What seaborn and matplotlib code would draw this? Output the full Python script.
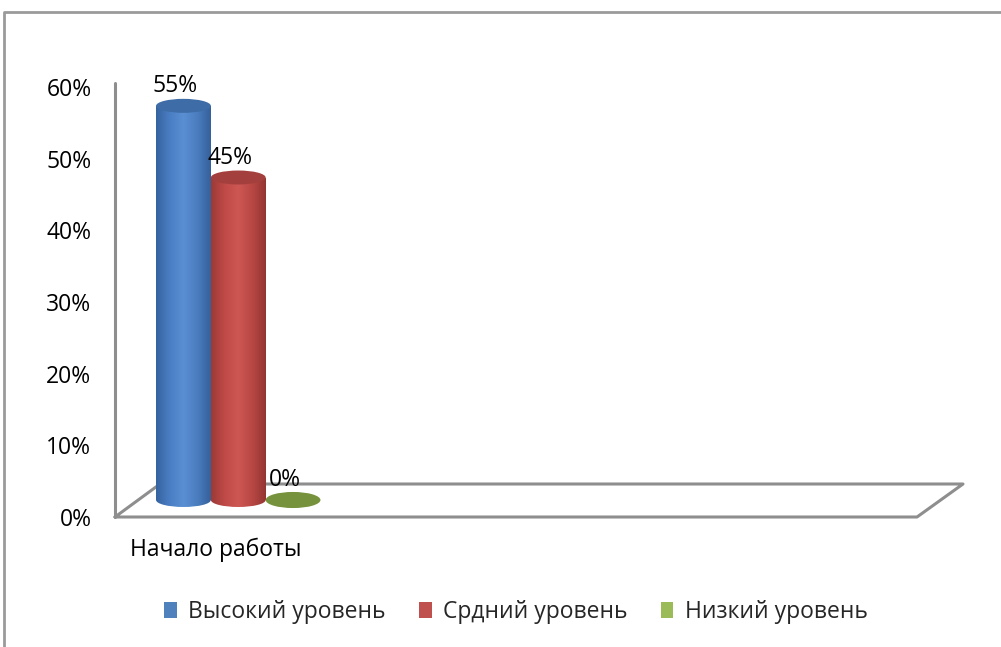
import numpy as np
import pandas as pd
import matplotlib
matplotlib.use("Agg")
import matplotlib.pyplot as plt
import seaborn as sns
from matplotlib.lines import Line2D
from matplotlib.patches import Ellipse, Rectangle, Patch
from matplotlib.colors import LinearSegmentedColormap

# data
periods = ["Начало работы"]
levels = ["Высокий уровень", "Срдний уровень", "Низкий уровень"]
values = [55, 45, 0]
y_ticks = [0, 10, 20, 30, 40, 50, 60]

colors = ["#4f81bd", "#c0504d", "#9bbb59"]
body_shades = [
    ["#36639f", "#4a7ec4", "#5a8fd3", "#4b7dc0", "#35619b"],
    ["#9c3a37", "#bf4a47", "#cd5753", "#b94744", "#933633"],
    ["#6f8b38", "#86a545", "#95b552", "#86a545", "#6f8b38"],
]
cap_colors = ["#3e6ca6", "#a3403d", "#76923c"]

df = pd.DataFrame({
    "period": [periods[0]] * len(levels),
    "level": levels,
    "value": values,
})

sns.set_style("white")
plt.rcParams["font.family"] = ["Open Sans", "DejaVu Sans"]
fs = 16.5

W, H = 1001, 647
fig = plt.figure(figsize=(W / 100, H / 100), dpi=100)


def fx(x):
    return x / W


def fy(y):
    return 1 - y / H


ppu = (517 - 87) / 60  # pixels per percent
ax_w = (917 - 115) / W
ax = fig.add_axes([fx(115), fy(517), ax_w, 60 * ppu / H])
# bars sit half way into the floor depth; extra room below zero for the round bottoms
ax2 = fig.add_axes([fx(138), fy(500 + 5 * ppu), ax_w, 65 * ppu / H])

# front axes: ticks and category label
ax.set_xlim(-0.5, 3.5)
ax.set_ylim(0, 60)
ax.set_yticks(y_ticks)
ax.set_yticklabels([f"{t}%" for t in y_ticks])
ax.set_xticks([0])
ax.set_xticklabels(periods)
ax.tick_params(axis="y", length=0, pad=17, labelsize=fs, colors="black")
ax.tick_params(axis="x", length=0, pad=15, labelsize=fs, colors="black")
for s in ax.spines.values():
    s.set_visible(False)
ax.patch.set_alpha(0)

# 3d-looking floor and wall edges
frame_col = "#8e8e8e"
ax.add_line(Line2D([fx(115), fx(917), fx(963), fx(160), fx(115)],
                   [fy(517), fy(517), fy(484), fy(484), fy(517)],
                   transform=fig.transFigure, color=frame_col, lw=2.2, clip_on=False))
ax.add_line(Line2D([fx(115), fx(115)], [fy(517), fy(83)],
                   transform=fig.transFigure, color=frame_col, lw=2.2, clip_on=False))

# outer chart border
fig.add_artist(Line2D([fx(4), fx(4), fx(1001)], [fy(647), fy(12), fy(12)],
                      transform=fig.transFigure, color="#9a9a9a", lw=2))

# bars
sns.barplot(data=df, x="period", y="value", hue="level", palette=colors,
            width=0.82, saturation=1, ax=ax2, legend=False)

ell_h = 1.95
grad = np.linspace(0, 1, 200).reshape(1, -1)
bars = sorted(ax2.patches, key=lambda p: p.get_x())
for i, bar in enumerate(bars):
    x0, w, h = bar.get_x(), bar.get_width(), bar.get_height()
    cx = x0 + w / 2
    bar.set_visible(False)
    cmap = LinearSegmentedColormap.from_list(f"cyl{i}", body_shades[i])
    if h > 0:
        body = Rectangle((x0, 0), w, h, transform=ax2.transData, facecolor="none", edgecolor="none")
        ax2.add_patch(body)
        bottom = Ellipse((cx, 0), w, ell_h, transform=ax2.transData, facecolor="none", edgecolor="none")
        ax2.add_patch(bottom)
        for clip in (body, bottom):
            im = ax2.imshow(grad, cmap=cmap, aspect="auto", extent=(x0, x0 + w, -ell_h, h),
                            zorder=2, interpolation="bilinear")
            im.set_clip_path(clip)
    cap_h = ell_h if h > 0 else ell_h * 1.15
    ax2.add_patch(Ellipse((cx, h), w, cap_h, facecolor=cap_colors[i], edgecolor="none", zorder=3))
    ax2.text(cx - 0.042, h + ell_h / 2 + 0.95, f"{values[i]}%", ha="center", va="baseline",
             fontsize=fs, color="black", zorder=4)
ax2.set_xlim(-0.5, 3.5)
ax2.set_ylim(-5, 60)
ax2.axis("off")

# legend
handles = [Patch(facecolor=c, edgecolor="none") for c in colors]
fig.legend(handles, levels, loc="center", bbox_to_anchor=(fx(516), fy(612)), ncol=3,
           frameon=False, fontsize=fs, handlelength=0.55, handleheight=0.7,
           handletextpad=0.5, columnspacing=1.45)

fig.savefig("out.png", dpi=100)
